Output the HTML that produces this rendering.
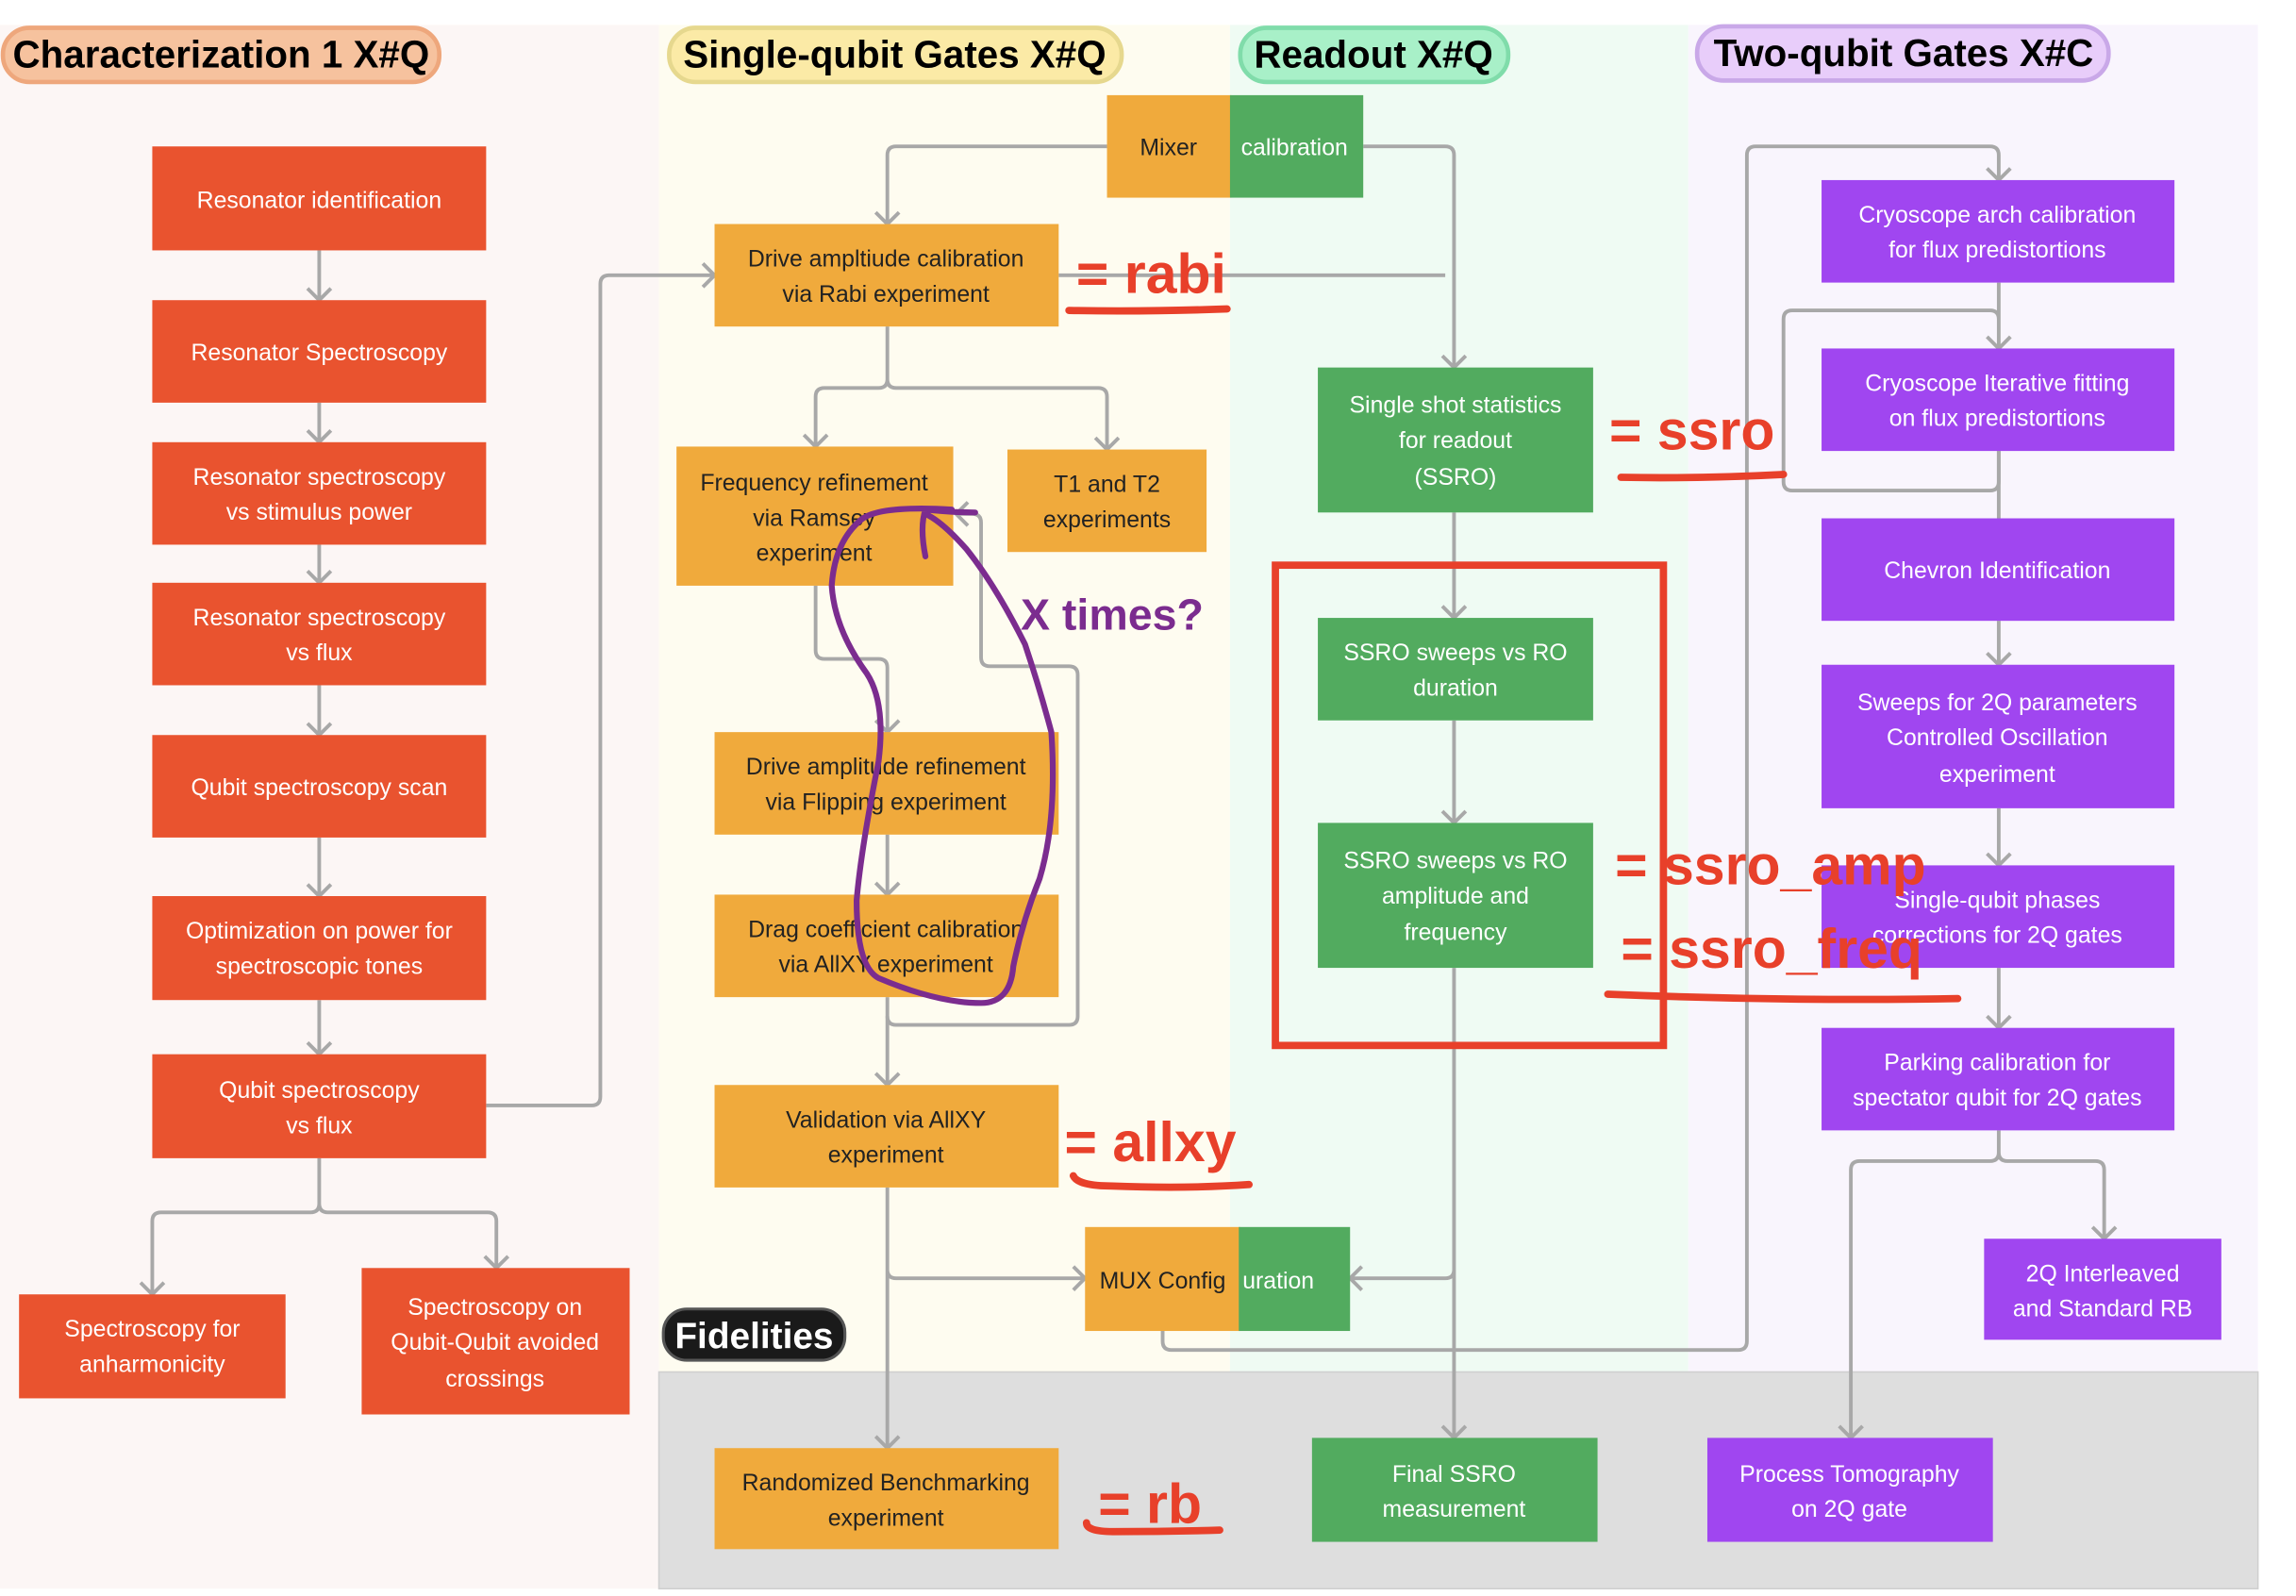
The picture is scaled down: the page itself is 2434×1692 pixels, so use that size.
<!DOCTYPE html>
<html><head><meta charset="utf-8"><style>
html,body{margin:0;padding:0;background:#fff;}
svg{display:block;}
text{font-family:"Liberation Sans",sans-serif;}
</style></head><body>
<svg width="2434" height="1692" viewBox="0 0 1568 1090" xmlns="http://www.w3.org/2000/svg">
<defs>
<marker id="a" viewBox="0 0 20 20" refX="10" refY="18" markerWidth="20" markerHeight="20" markerUnits="userSpaceOnUse" orient="auto-start-reverse">
</marker>
</defs>
<!-- lanes -->
<rect x="0" y="17" width="450" height="1068" fill="#fcf6f5"/>
<rect x="450" y="17" width="390" height="920" fill="#fefcf0"/>
<rect x="840" y="17" width="313" height="920" fill="#effbf3"/>
<rect x="1153" y="17" width="389" height="920" fill="#f9f5fd"/>
<rect x="450" y="937" width="1092" height="148" fill="#dedede" stroke="#cfcfcf"/>
<!-- lane titles -->
<g font-weight="bold" font-size="26" text-anchor="middle">
<rect x="2" y="19" width="298" height="37" rx="18" fill="#f6c29e" stroke="#eea77c" stroke-width="3"/>
<text x="151" y="46">Characterization 1 X#Q</text>
<rect x="457" y="19" width="309" height="37" rx="18" fill="#fbeaa6" stroke="#e6d88e" stroke-width="3"/>
<text x="611" y="46">Single-qubit Gates X#Q</text>
<rect x="847" y="19" width="183" height="37" rx="18" fill="#a8f0c8" stroke="#80dcaa" stroke-width="3"/>
<text x="938" y="46">Readout X#Q</text>
<rect x="1159" y="18" width="281" height="37" rx="18" fill="#e8cdfa" stroke="#c9a8e8" stroke-width="3"/>
<text x="1300" y="45">Two-qubit Gates X#C</text>
</g>
<!-- connectors -->
<g fill="none" stroke="#a8a8a8" stroke-width="2.5" stroke-linejoin="round">
<path d="M218 171V205M218 275V302M218 372V398M218 468V502M218 572V612M218 683V720"/>
<path d="M332 755H404Q410 755 410 749V194Q410 188 416 188H488"/>
<path d="M218 791V822Q218 828 212 828H110Q104 828 104 834V884M218 822Q218 828 224 828H333Q339 828 339 834V866"/>
<path d="M756 100H612Q606 100 606 106V153"/>
<path d="M931 100H987Q993 100 993 106V251M723 188H987"/>
<path d="M606 223V259Q606 265 600 265H563Q557 265 557 271V305M606 259Q606 265 612 265H750Q756 265 756 271V307"/>
<path d="M557 400V444Q557 450 563 450H600Q606 450 606 456V500"/>
<path d="M606 570V611M606 681V741"/>
<path d="M606 694Q606 700 612 700H730Q736 700 736 694V461Q736 455 730 455H676Q670 455 670 449V357Q670 351 664 351H653"/>
<path d="M606 811V989M606 867Q606 873 612 873H741"/>
<path d="M993 350V422M993 492V562M993 661V982M993 867Q993 873 987 873H922"/>
<path d="M794 909V916Q794 922 800 922H1187Q1193 922 1193 916V106Q1193 100 1199 100H1359Q1365 100 1365 106V123"/>
<path d="M1365 193V238M1365 308V329Q1365 335 1359 335H1224Q1218 335 1218 329V218Q1218 212 1224 212H1359Q1365 212 1365 218"/>
<path d="M1365 308V354M1365 424V454M1365 552V591M1365 661V702"/>
<path d="M1365 772V787Q1365 793 1359 793H1270Q1264 793 1264 799V982M1365 787Q1365 793 1371 793H1431Q1437 793 1437 799V846"/>
<!-- arrowheads down -->
<path d="M210 197L218 205L226 197M210 294L218 302L226 294M210 390L218 398L226 390M210 494L218 502L226 494M210 604L218 612L226 604M210 712L218 720L226 712M96 876L104 884L112 876M331 858L339 866L347 858M598 145L606 153L614 145M985 243L993 251L1001 243M549 297L557 305L565 297M748 299L756 307L764 299M598 492L606 500L614 492M598 603L606 611L614 603M598 733L606 741L614 733M598 981L606 989L614 981M985 414L993 422L1001 414M985 554L993 562L1001 554M985 974L993 982L1001 974M1357 115L1365 123L1373 115M1357 230L1365 238L1373 230M1357 446L1365 454L1373 446M1357 583L1365 591L1373 583M1357 694L1365 702L1373 694M1256 974L1264 982L1272 974M1429 838L1437 846L1445 838"/>
<path d="M480 180L488 188L480 196M733 865L741 873L733 881M930 865L922 873L930 881M661 343L653 351L661 359"/>
</g>
<!-- boxes -->
<g fill="#e9532f">
<rect x="104" y="100" width="228" height="71"/><rect x="104" y="205" width="228" height="70"/>
<rect x="104" y="302" width="228" height="70"/><rect x="104" y="398" width="228" height="70"/>
<rect x="104" y="502" width="228" height="70"/><rect x="104" y="612" width="228" height="71"/>
<rect x="104" y="720" width="228" height="71"/><rect x="13" y="884" width="182" height="71"/>
<rect x="247" y="866" width="183" height="100"/>
</g>
<g fill="#f0aa3c">
<rect x="756" y="65" width="85" height="70"/><rect x="488" y="153" width="235" height="70"/>
<rect x="462" y="305" width="189" height="95"/><rect x="688" y="307" width="136" height="70"/>
<rect x="488" y="500" width="235" height="70"/><rect x="488" y="611" width="235" height="70"/>
<rect x="488" y="741" width="235" height="70"/><rect x="741" y="838" width="106" height="71"/>
<rect x="488" y="989" width="235" height="69"/>
</g>
<g fill="#52ab5f">
<rect x="840" y="65" width="91" height="70"/><rect x="846" y="838" width="76" height="71"/>
<rect x="900" y="251" width="188" height="99"/><rect x="900" y="422" width="188" height="70"/>
<rect x="900" y="562" width="188" height="99"/><rect x="896" y="982" width="195" height="71"/>
</g>
<g fill="#a046f0">
<rect x="1244" y="123" width="241" height="70"/><rect x="1244" y="238" width="241" height="70"/>
<rect x="1244" y="354" width="241" height="70"/><rect x="1244" y="454" width="241" height="98"/>
<rect x="1244" y="591" width="241" height="70"/><rect x="1244" y="702" width="241" height="70"/>
<rect x="1355" y="846" width="162" height="69"/><rect x="1166" y="982" width="195" height="71"/>
</g>
<!-- box text -->
<g font-size="16" text-anchor="middle" fill="#fff">
<text x="218" y="142">Resonator identification</text>
<text x="218" y="246">Resonator Spectroscopy</text>
<text x="218" y="331">Resonator spectroscopy</text><text x="218" y="355">vs stimulus power</text>
<text x="218" y="427">Resonator spectroscopy</text><text x="218" y="451">vs flux</text>
<text x="218" y="543">Qubit spectroscopy scan</text>
<text x="218" y="641">Optimization on power for</text><text x="218" y="665">spectroscopic tones</text>
<text x="218" y="750">Qubit spectroscopy</text><text x="218" y="774">vs flux</text>
<text x="104" y="913">Spectroscopy for</text><text x="104" y="937">anharmonicity</text>
<text x="338" y="898">Spectroscopy on</text><text x="338" y="922">Qubit-Qubit avoided</text><text x="338" y="947">crossings</text>
<text x="884" y="106">calibration</text>
<text x="873" y="880">uration</text>
<text x="994" y="282">Single shot statistics</text><text x="994" y="306">for readout</text><text x="994" y="331">(SSRO)</text>
<text x="994" y="451">SSRO sweeps vs RO</text><text x="994" y="475">duration</text>
<text x="994" y="593">SSRO sweeps vs RO</text><text x="994" y="617">amplitude and</text><text x="994" y="642">frequency</text>
<text x="993" y="1012">Final SSRO</text><text x="993" y="1036">measurement</text>
<text x="1364" y="152">Cryoscope arch calibration</text><text x="1364" y="176">for flux predistortions</text>
<text x="1364" y="267">Cryoscope Iterative fitting</text><text x="1364" y="291">on flux predistortions</text>
<text x="1364" y="395">Chevron Identification</text>
<text x="1364" y="485">Sweeps for 2Q parameters</text><text x="1364" y="509">Controlled Oscillation</text><text x="1364" y="534">experiment</text>
<text x="1364" y="620">Single-qubit phases</text><text x="1364" y="644">corrections for 2Q gates</text>
<text x="1364" y="731">Parking calibration for</text><text x="1364" y="755">spectator qubit for 2Q gates</text>
<text x="1436" y="875">2Q Interleaved</text><text x="1436" y="899">and Standard RB</text>
<text x="1263" y="1012">Process Tomography</text><text x="1263" y="1036">on 2Q gate</text>
</g>
<g font-size="16" text-anchor="middle" fill="#222">
<text x="798" y="106">Mixer</text>
<text x="605" y="182">Drive ampltiude calibration</text><text x="605" y="206">via Rabi experiment</text>
<text x="556" y="335">Frequency refinement</text><text x="556" y="359">via Ramsey</text><text x="556" y="383">experiment</text>
<text x="756" y="336">T1 and T2</text><text x="756" y="360">experiments</text>
<text x="605" y="529">Drive amplitude refinement</text><text x="605" y="553">via Flipping experiment</text>
<text x="605" y="640">Drag coefficient calibration</text><text x="605" y="664">via AllXY experiment</text>
<text x="605" y="770">Validation via AllXY</text><text x="605" y="794">experiment</text>
<text x="794" y="880">MUX Config</text>
<text x="605" y="1018">Randomized Benchmarking</text><text x="605" y="1042">experiment</text>
</g>
<!-- fidelities -->
<rect x="453" y="894" width="124" height="35" rx="16" fill="#1a1a1a" stroke="#555" stroke-width="2"/>
<text x="515" y="921" font-size="25" font-weight="bold" fill="#fff" text-anchor="middle">Fidelities</text>
<!-- annotations -->
<rect x="871" y="386" width="265" height="328" fill="none" stroke="#e8402a" stroke-width="5"/>
<g fill="#e8402a" font-weight="bold" font-size="38">
<text x="735" y="200">= rabi</text>
<text x="1099" y="307">= ssro</text>
<text x="1103" y="604">= ssro_amp</text>
<text x="1107" y="661">= ssro_freq</text>
<text x="727" y="793">= allxy</text>
<text x="750" y="1040">= rb</text>
</g>
<g stroke="#e8402a" stroke-width="5" stroke-linecap="round" fill="none">
<path d="M730 212Q780 213 838 211"/>
<path d="M1107 326Q1160 327 1218 324"/>
<path d="M1098 679Q1220 684 1337 682"/>
<path d="M733 803Q736 810 760 810Q810 812 853 809"/>
<path d="M742 1040Q742 1046 760 1046Q800 1046 833 1045"/>
</g>
<text x="697" y="430" fill="#7b2c8f" font-weight="bold" font-size="30">X times?</text>
<path d="M632 380Q628 360 632 348Q650 350 666 350M650 348Q600 345 588 355Q570 370 568 400Q570 430 592 460Q605 480 600 520Q588 580 585 615Q585 660 600 668Q640 685 670 685Q690 685 692 660Q698 630 710 600Q722 560 718 500Q710 470 700 440Q680 400 660 375Q645 358 634 352" fill="none" stroke="#7b2c8f" stroke-width="4" stroke-linecap="round" stroke-linejoin="round"/>
</svg>
</body></html>
